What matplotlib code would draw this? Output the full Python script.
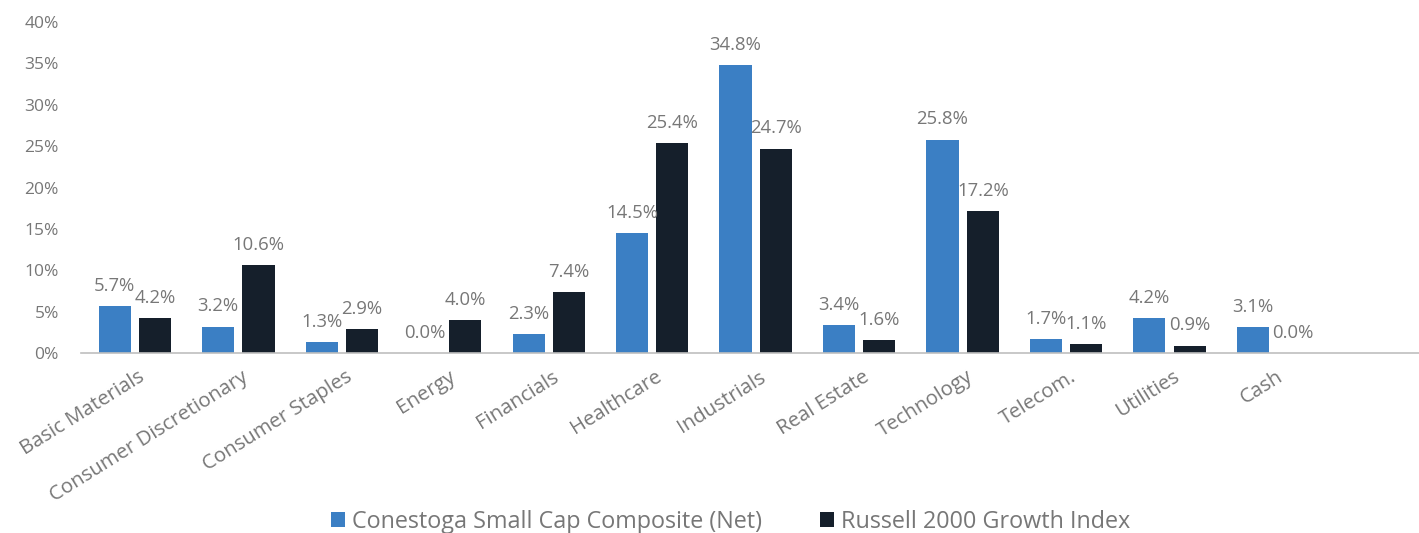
import numpy as np
import matplotlib.pyplot as plt

categories = ['Basic Materials', 'Consumer Discretionary', 'Consumer Staples', 'Energy',
              'Financials', 'Healthcare', 'Industrials', 'Real Estate', 'Technology',
              'Telecom.', 'Utilities', 'Cash']
conestoga = [5.7, 3.2, 1.3, 0.0, 2.3, 14.5, 34.8, 3.4, 25.8, 1.7, 4.2, 3.1]
russell = [4.2, 10.6, 2.9, 4.0, 7.4, 25.4, 24.7, 1.6, 17.2, 1.1, 0.9, 0.0]
series_names = ['Conestoga Small Cap Composite (Net)', 'Russell 2000 Growth Index']

plt.rcParams['font.family'] = ['Open Sans', 'DejaVu Sans']
grey = '#777777'
blue = '#3b7fc4'
dark = '#151f2b'

fig = plt.figure(figsize=(14.19, 5.33), dpi=100)
ax = fig.add_axes([81 / 1419, 1 - 353 / 533, 1 - 81 / 1419, (353 - 22) / 533])

x = np.arange(len(categories))
w = 0.31
b1 = ax.bar(x - 0.195, conestoga, w, color=blue, label=series_names[0])
b2 = ax.bar(x + 0.195, russell, w, color=dark, label=series_names[1])

# value labels above bars
for bars, vals in [(b1, conestoga), (b2, russell)]:
    for rect, v in zip(bars, vals):
        ax.annotate(f'{v:.1f}%', (rect.get_x() + rect.get_width() / 2, v),
                    xytext=(0, 8), textcoords='offset points',
                    ha='center', va='bottom', fontsize=13.3, color=grey)

ax.set_ylim(0, 40)
ax.set_xlim(-0.52, 12.41)
ax.set_yticks(range(0, 41, 5))
ax.set_yticklabels([f'{t}%' for t in range(0, 41, 5)], fontsize=12.5, color=grey)
ax.tick_params(axis='y', length=0, pad=16)
ax.tick_params(axis='x', length=0, pad=10)
ax.set_xticks(x + 0.03)
ax.set_xticklabels(categories, rotation=32, ha='right', rotation_mode='anchor',
                   fontsize=14.7, color=grey)

for s in ['top', 'right', 'left']:
    ax.spines[s].set_visible(False)
ax.spines['bottom'].set_color('#bfbfbf')
ax.spines['bottom'].set_linewidth(1.2)

leg = fig.legend(handles=[b1, b2], loc='center', bbox_to_anchor=(0.515, 1 - 522 / 533),
                 ncol=2, frameon=False, fontsize=16.8, handlelength=0.6, handleheight=0.6,
                 handletextpad=0.3, columnspacing=2.5)
for t in leg.get_texts():
    t.set_color(grey)

fig.savefig('out.png', dpi=100)
